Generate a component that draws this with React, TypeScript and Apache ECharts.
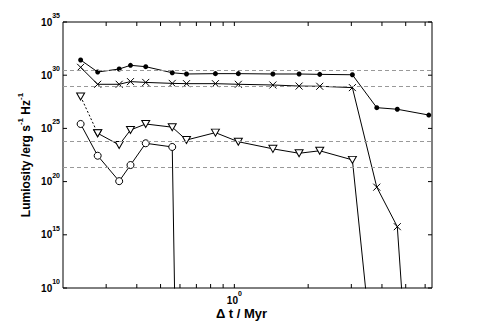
import React, { useEffect, useRef } from 'react';
import * as echarts from 'echarts';

// Δt / Myr (shared sampling grid of all series)
const timeMyr = [0.236, 0.277, 0.339, 0.377, 0.435, 0.558, 0.638, 0.837, 1.038, 1.436, 1.837, 2.23, 3.03, 3.81, 4.62, 6.21];

// Luminosity / erg s^-1 Hz^-1
const lumDots = [2.7e31, 2.0e30, 3.8e30, 8.5e30, 6.3e30, 1.7e30, 1.3e30, 1.4e30, 1.4e30, 1.3e30, 1.3e30, 1.2e30, 1.1e30, 8.9e26, 6.3e26, 1.8e26];
const lumCrosses = [5.5e30, 1.4e29, 1.4e29, 2.5e29, 2.1e29, 1.7e29, 1.6e29, 1.6e29, 1.4e29, 1.2e29, 9.5e28, 9.1e28, 6.8e28, 3.0e19, 5.8e15, 1e-27];
const lumTriangles = [1.0e28, 3.5e24, 2.8e23, 7.1e24, 2.6e25, 1.3e25, 8.1e23, 4.0e24, 5.6e23, 1.2e23, 4.6e22, 7.9e22, 1.1e22, 0.5];
const lumCircles = [2.6e25, 2.7e22, 1.1e20, 3.6e21, 4.0e23, 1.8e23, 1e-59];

// dashed reference levels
const refLevels = [3.1e30, 1.0e29, 6.9e23, 2.2e21];

// ticks
const xTickValues = [0.3, 0.4, 0.5, 0.6, 0.7, 0.8, 0.9, 1, 2, 3, 4, 5, 6];
const yTickValues = [1e10, 1e15, 1e20, 1e25, 1e30, 1e35];

const FONT = '"Liberation Sans", Arial, Helvetica, sans-serif';

const pairs = (ys: number[], start = 0, end?: number) =>
  ys.map((y, i) => [timeMyr[i], y]).slice(start, end);

export default function App() {
  const ref = useRef<HTMLDivElement>(null);

  useEffect(() => {
    if (!ref.current) return;
    const chart = echarts.init(ref.current, undefined, { renderer: 'svg' });

    const lineBase = {
      type: 'line',
      clip: true,
      silent: true,
      lineStyle: { color: '#000', width: 1 },
      z: 3,
    };

    const option: any = {
      animation: false,
      backgroundColor: '#fff',
      grid: {
        left: 63,
        right: 45,
        top: 22,
        bottom: 39,
        show: true,
        borderColor: '#000',
        borderWidth: 1,
        backgroundColor: 'transparent',
      },
      xAxis: {
        type: 'log',
        min: 0.2,
        max: 6.4,
        axisLine: { show: false },
        axisTick: { show: false },
        splitLine: { show: false },
        name: 'Δ t / Myr',
        nameLocation: 'middle',
        nameGap: 19,
        nameMoveOverlap: false,
        nameTextStyle: {
          fontFamily: FONT,
          fontWeight: 'bold',
          fontSize: 13,
          color: '#000',
          verticalAlign: 'top',
          padding: [0, 12, 0, 0],
        },
        axisLabel: {
          margin: 2,
          showMinLabel: false,
          showMaxLabel: false,
          formatter: (v: number) =>
            Math.abs(Math.log10(v)) < 1e-6 ? '{b|10}{s|0}' : '',
          rich: {
            b: { fontFamily: FONT, fontWeight: 'bold', fontSize: 10, lineHeight: 20, color: '#000' },
            s: { fontFamily: FONT, fontWeight: 'bold', fontSize: 7, lineHeight: 9, verticalAlign: 'top', color: '#000' },
          },
        },
      },
      yAxis: {
        type: 'log',
        min: 1e10,
        max: 1e35,
        interval: 5,
        axisLine: { show: false },
        axisTick: { show: false },
        splitLine: { show: false },
        name: '{t|Lumiosity /erg s}{s|-1}{t| Hz}{s|-1}',
        nameLocation: 'middle',
        nameGap: 27,
        nameMoveOverlap: false,
        nameRotate: 90,
        nameTextStyle: {
          rich: {
            t: { fontFamily: FONT, fontWeight: 'bold', fontSize: 12, lineHeight: 20, color: '#000' },
            s: { fontFamily: FONT, fontWeight: 'bold', fontSize: 8, lineHeight: 10, verticalAlign: 'top', color: '#000' },
          },
        },
        axisLabel: {
          margin: 3,
          formatter: (v: number) => `{b|10}{s|${Math.round(Math.log10(v))}}`,
          rich: {
            b: { fontFamily: FONT, fontWeight: 'bold', fontSize: 10, lineHeight: 20, color: '#000' },
            s: { fontFamily: FONT, fontWeight: 'bold', fontSize: 7, lineHeight: 9, verticalAlign: 'top', color: '#000' },
          },
        },
      },
      series: [
        // tick marks on x (bottom & top)
        {
          type: 'custom',
          silent: true,
          z: 5,
          clip: false,
          data: xTickValues.map((v) => [v, 1e20]),
          renderItem: (params: any, api: any) => {
            const p = api.coord([api.value(0), api.value(1)]);
            const cs = params.coordSys;
            const b = cs.y + cs.height;
            const len = 4;
            return {
              type: 'group',
              children: [
                { type: 'line', shape: { x1: p[0], y1: b, x2: p[0], y2: b - len }, style: { stroke: '#000', lineWidth: 1 } },
                { type: 'line', shape: { x1: p[0], y1: cs.y, x2: p[0], y2: cs.y + len }, style: { stroke: '#000', lineWidth: 1 } },
              ],
            };
          },
        },
        // tick marks on y (left & right)
        {
          type: 'custom',
          silent: true,
          z: 5,
          clip: false,
          data: yTickValues.map((v) => [1, v]),
          renderItem: (params: any, api: any) => {
            const p = api.coord([api.value(0), api.value(1)]);
            const cs = params.coordSys;
            const r = cs.x + cs.width;
            const len = 4;
            return {
              type: 'group',
              children: [
                { type: 'line', shape: { x1: cs.x, y1: p[1], x2: cs.x + len, y2: p[1] }, style: { stroke: '#000', lineWidth: 1 } },
                { type: 'line', shape: { x1: r, y1: p[1], x2: r - len, y2: p[1] }, style: { stroke: '#000', lineWidth: 1 } },
              ],
            };
          },
        },
        {
          ...lineBase,
          name: 'dots',
          data: pairs(lumDots),
          symbol: 'circle',
          symbolSize: 5,
          itemStyle: { color: '#000' },
          markLine: {
            silent: true,
            symbol: 'none',
            label: { show: false },
            lineStyle: { color: '#999', type: [4, 3], width: 1 },
            data: refLevels.map((v) => ({ yAxis: v })),
          },
        },
        {
          ...lineBase,
          name: 'crosses',
          data: pairs(lumCrosses),
          symbol: 'path://M0,0L10,10M10,0L0,10',
          symbolSize: 7,
          itemStyle: { color: 'none', borderColor: '#000', borderWidth: 1 },
        },
        {
          ...lineBase,
          name: 'triangles-dotted',
          data: pairs(lumTriangles, 0, 2),
          symbol: 'triangle',
          symbolRotate: 180,
          symbolSize: [8, 7],
          lineStyle: { color: '#000', width: 1, type: [2, 2] },
          itemStyle: { color: '#fff', borderColor: '#000', borderWidth: 1 },
        },
        {
          ...lineBase,
          name: 'triangles',
          data: pairs(lumTriangles, 1),
          symbol: 'triangle',
          symbolRotate: 180,
          symbolSize: [8, 7],
          itemStyle: { color: '#fff', borderColor: '#000', borderWidth: 1 },
        },
        {
          ...lineBase,
          name: 'circles',
          data: pairs(lumCircles),
          symbol: 'circle',
          symbolSize: 7,
          itemStyle: { color: '#fff', borderColor: '#000', borderWidth: 1 },
        },
      ],
    };

    chart.setOption(option);
    return () => chart.dispose();
  }, []);

  return (
    <div
      ref={ref}
      style={{ position: 'absolute', left: 0, top: 0, width: 477, height: 327 }}
    />
  );
}
